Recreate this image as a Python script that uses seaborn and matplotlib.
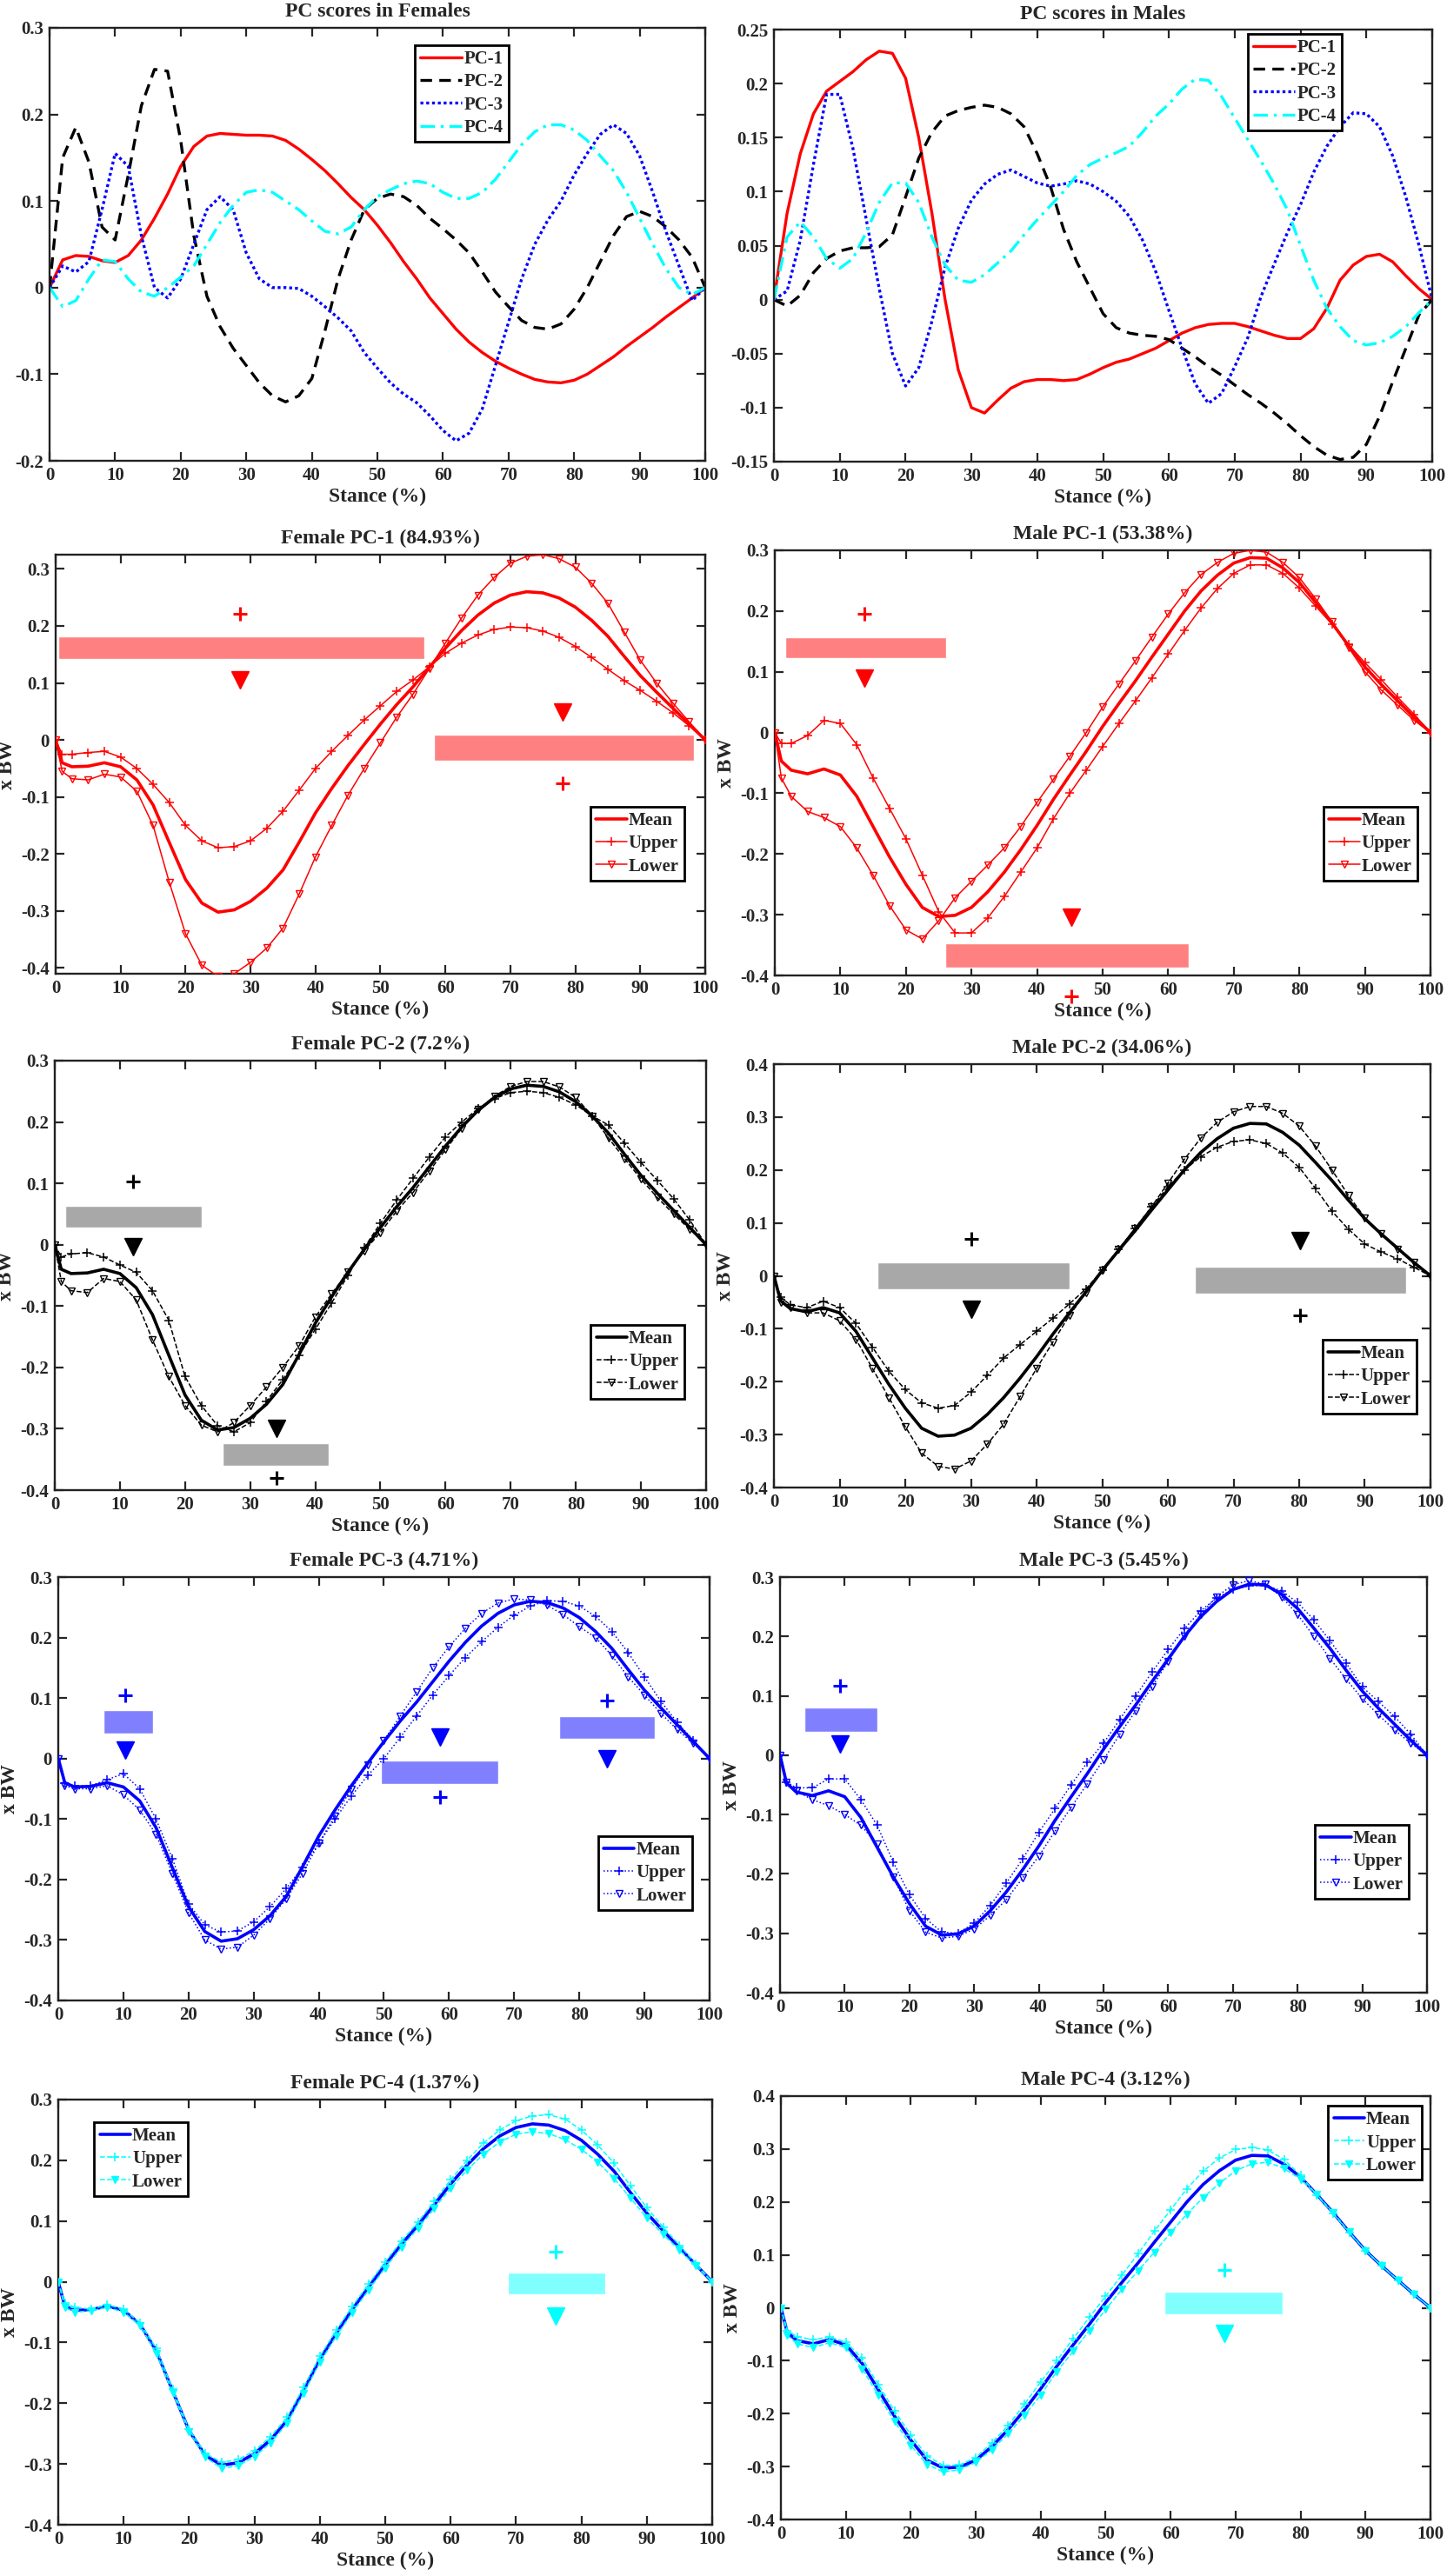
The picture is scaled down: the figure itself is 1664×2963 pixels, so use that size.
import numpy as np
import matplotlib
matplotlib.use("Agg")
import matplotlib.pyplot as plt
from matplotlib.ticker import FuncFormatter
import seaborn as sns

# stance grids (% of stance phase)
STANCE = [0, 1] + list(np.arange(2.5, 100.01, 2.5))
STANCE_PC = list(range(0, 101, 2))

# ---- PC scores (top row) ----
F_PC1 = [0.0, 0.032, 0.037, 0.036, 0.031, 0.029, 0.037, 0.055, 0.08, 0.108, 0.14, 0.163, 0.175, 0.178, 0.177, 0.176,
         0.176, 0.175, 0.17, 0.16, 0.148, 0.135, 0.12, 0.104, 0.09, 0.072, 0.052, 0.03, 0.01, -0.012, -0.03, -0.048,
         -0.063, -0.075, -0.085, -0.093, -0.1, -0.106, -0.109, -0.11, -0.107, -0.1, -0.09, -0.08, -0.068, -0.057,
         -0.046, -0.034, -0.023, -0.012, 0.0]
F_PC2 = [0.0, 0.15, 0.185, 0.145, 0.07, 0.055, 0.13, 0.21, 0.252, 0.25, 0.17, 0.06, -0.01, -0.045, -0.07, -0.09,
         -0.11, -0.125, -0.132, -0.125, -0.105, -0.05, 0.01, 0.055, 0.09, 0.103, 0.108, 0.105, 0.095, 0.08, 0.068,
         0.055, 0.04, 0.018, -0.005, -0.022, -0.038, -0.046, -0.048, -0.042, -0.025, 0.0, 0.03, 0.06, 0.082, 0.088,
         0.082, 0.07, 0.055, 0.035, 0.0]
F_PC3 = [0.0, 0.025, 0.018, 0.03, 0.09, 0.155, 0.14, 0.06, 0.0, -0.012, 0.01, 0.05, 0.09, 0.105, 0.09, 0.04, 0.01,
         0.0, 0.0, -0.001, -0.01, -0.022, -0.035, -0.05, -0.075, -0.093, -0.11, -0.123, -0.133, -0.148, -0.165,
         -0.177, -0.168, -0.14, -0.09, -0.04, 0.01, 0.05, 0.078, 0.1, 0.13, 0.155, 0.177, 0.188, 0.178, 0.152, 0.11,
         0.065, 0.025, -0.015, 0.0]
F_PC4 = [0.0, -0.022, -0.015, 0.01, 0.032, 0.03, 0.01, -0.005, -0.01, 0.0, 0.012, 0.025, 0.05, 0.075, 0.095, 0.11,
         0.113, 0.11, 0.1, 0.09, 0.077, 0.065, 0.062, 0.07, 0.09, 0.105, 0.113, 0.12, 0.123, 0.12, 0.11, 0.103, 0.103,
         0.11, 0.125, 0.145, 0.165, 0.18, 0.188, 0.188, 0.182, 0.17, 0.152, 0.135, 0.11, 0.08, 0.05, 0.022, 0.0,
         -0.008, 0.0]
M_PC1 = [0.0, 0.08, 0.135, 0.172, 0.193, 0.202, 0.211, 0.222, 0.23, 0.228, 0.205, 0.15, 0.08, 0.0, -0.065, -0.1,
         -0.105, -0.093, -0.082, -0.076, -0.074, -0.074, -0.075, -0.074, -0.069, -0.063, -0.058, -0.055, -0.05,
         -0.045, -0.038, -0.031, -0.026, -0.023, -0.022, -0.022, -0.025, -0.029, -0.033, -0.036, -0.036, -0.027,
         -0.008, 0.018, 0.032, 0.04, 0.042, 0.035, 0.022, 0.01, 0.0]
M_PC2 = [0.0, -0.006, 0.004, 0.025, 0.038, 0.045, 0.048, 0.048, 0.049, 0.06, 0.095, 0.131, 0.155, 0.17, 0.175, 0.178,
         0.18, 0.178, 0.172, 0.16, 0.135, 0.105, 0.065, 0.035, 0.011, -0.013, -0.026, -0.031, -0.033, -0.034, -0.037,
         -0.045, -0.053, -0.062, -0.07, -0.079, -0.088, -0.096, -0.105, -0.115, -0.126, -0.136, -0.144, -0.148,
         -0.146, -0.134, -0.108, -0.076, -0.045, -0.014, 0.0]
M_PC3 = [0.0, 0.008, 0.055, 0.125, 0.19, 0.19, 0.14, 0.075, 0.01, -0.05, -0.08, -0.063, -0.02, 0.03, 0.066, 0.092,
         0.107, 0.116, 0.12, 0.114, 0.108, 0.105, 0.107, 0.11, 0.107, 0.1, 0.091, 0.077, 0.055, 0.026, -0.01, -0.045,
         -0.078, -0.096, -0.087, -0.062, -0.035, 0.003, 0.033, 0.062, 0.088, 0.118, 0.142, 0.16, 0.173, 0.172, 0.16,
         0.133, 0.095, 0.05, 0.0]
M_PC4 = [0.0, 0.058, 0.072, 0.058, 0.038, 0.029, 0.038, 0.062, 0.09, 0.108, 0.108, 0.09, 0.058, 0.032, 0.018, 0.016,
         0.023, 0.034, 0.045, 0.06, 0.074, 0.087, 0.1, 0.115, 0.125, 0.131, 0.136, 0.142, 0.155, 0.17, 0.181, 0.195,
         0.204, 0.203, 0.188, 0.168, 0.148, 0.128, 0.107, 0.083, 0.05, 0.018, -0.008, -0.025, -0.038, -0.042, -0.04,
         -0.034, -0.025, -0.012, 0.0]

# ---- mean GRF curves (x BW) ----
F_MEAN = [0, -0.04, -0.047, -0.046, -0.04, -0.047, -0.07, -0.114, -0.18, -0.245, -0.286, -0.302, -0.298, -0.283,
          -0.26, -0.228, -0.179, -0.128, -0.085, -0.045, -0.008, 0.028, 0.062, 0.093, 0.127, 0.161, 0.192, 0.219,
          0.24, 0.254, 0.26, 0.258, 0.249, 0.233, 0.21, 0.182, 0.147, 0.113, 0.084, 0.056, 0.028, 0]
M_MEAN = [0, -0.047, -0.062, -0.068, -0.06, -0.07, -0.105, -0.155, -0.205, -0.25, -0.288, -0.303, -0.301, -0.288,
          -0.262, -0.23, -0.193, -0.153, -0.11, -0.07, -0.031, 0.01, 0.048, 0.085, 0.124, 0.162, 0.2, 0.233, 0.259,
          0.279, 0.288, 0.287, 0.271, 0.247, 0.214, 0.18, 0.143, 0.108, 0.079, 0.052, 0.025, 0]

# ---- upper / lower curves per PC ----
F1_UP = [0, -0.025, -0.025, -0.022, -0.02, -0.03, -0.05, -0.078, -0.11, -0.15, -0.177, -0.189, -0.187, -0.177,
         -0.155, -0.125, -0.088, -0.05, -0.02, 0.008, 0.035, 0.06, 0.085, 0.105, 0.128, 0.152, 0.17, 0.184, 0.194,
         0.198, 0.197, 0.191, 0.18, 0.164, 0.145, 0.124, 0.104, 0.087, 0.068, 0.048, 0.025, 0]
F1_LO = [0, -0.055, -0.068, -0.07, -0.06, -0.065, -0.09, -0.15, -0.25, -0.34, -0.395, -0.415, -0.41, -0.39, -0.365,
         -0.33, -0.27, -0.205, -0.15, -0.097, -0.05, -0.005, 0.04, 0.08, 0.125, 0.17, 0.214, 0.254, 0.285, 0.31,
         0.322, 0.325, 0.318, 0.303, 0.275, 0.24, 0.19, 0.14, 0.1, 0.065, 0.032, 0]
F2_UP = [0, -0.02, -0.015, -0.013, -0.02, -0.033, -0.045, -0.075, -0.123, -0.215, -0.262, -0.295, -0.305, -0.29,
         -0.255, -0.22, -0.18, -0.138, -0.095, -0.05, -0.005, 0.035, 0.073, 0.108, 0.143, 0.176, 0.2, 0.222, 0.238,
         0.248, 0.25, 0.248, 0.24, 0.228, 0.21, 0.195, 0.165, 0.134, 0.105, 0.075, 0.04, 0]
F2_LO = [0, -0.06, -0.075, -0.078, -0.055, -0.06, -0.09, -0.155, -0.215, -0.262, -0.294, -0.305, -0.29, -0.262,
         -0.232, -0.2, -0.165, -0.118, -0.08, -0.045, -0.01, 0.02, 0.055, 0.085, 0.12, 0.155, 0.19, 0.22, 0.242,
         0.258, 0.266, 0.266, 0.257, 0.24, 0.21, 0.174, 0.14, 0.107, 0.077, 0.05, 0.025, 0]
F3_UP = [0, -0.04, -0.045, -0.045, -0.035, -0.025, -0.05, -0.1, -0.165, -0.24, -0.275, -0.287, -0.285, -0.27,
         -0.245, -0.215, -0.18, -0.14, -0.1, -0.062, -0.028, 0.0, 0.035, 0.07, 0.105, 0.137, 0.167, 0.193, 0.217,
         0.237, 0.252, 0.261, 0.26, 0.252, 0.235, 0.21, 0.175, 0.135, 0.095, 0.06, 0.03, 0]
F3_LO = [0, -0.045, -0.05, -0.05, -0.045, -0.06, -0.085, -0.125, -0.19, -0.255, -0.3, -0.315, -0.312, -0.292,
         -0.265, -0.232, -0.19, -0.14, -0.095, -0.05, -0.01, 0.03, 0.07, 0.11, 0.15, 0.185, 0.215, 0.24, 0.257,
         0.264, 0.262, 0.254, 0.238, 0.218, 0.2, 0.17, 0.135, 0.105, 0.075, 0.048, 0.025, 0]
F4_UP = [0, -0.035, -0.042, -0.045, -0.038, -0.045, -0.068, -0.11, -0.177, -0.243, -0.283, -0.297, -0.293, -0.278,
         -0.255, -0.223, -0.174, -0.123, -0.08, -0.04, -0.003, 0.033, 0.067, 0.098, 0.133, 0.168, 0.2, 0.228, 0.25,
         0.265, 0.273, 0.275, 0.268, 0.25, 0.225, 0.195, 0.158, 0.122, 0.09, 0.06, 0.03, 0]
F4_LO = [0, -0.042, -0.05, -0.048, -0.042, -0.05, -0.072, -0.118, -0.183, -0.247, -0.289, -0.307, -0.303, -0.288,
         -0.265, -0.233, -0.184, -0.133, -0.09, -0.05, -0.013, 0.023, 0.057, 0.088, 0.121, 0.154, 0.184, 0.21, 0.23,
         0.243, 0.247, 0.244, 0.234, 0.218, 0.197, 0.17, 0.138, 0.105, 0.078, 0.052, 0.026, 0]
M1_UP = [0, -0.018, -0.018, -0.005, 0.02, 0.015, -0.02, -0.075, -0.125, -0.175, -0.235, -0.295, -0.33, -0.33,
         -0.305, -0.27, -0.23, -0.19, -0.142, -0.1, -0.062, -0.023, 0.015, 0.052, 0.09, 0.129, 0.168, 0.205, 0.237,
         0.262, 0.276, 0.276, 0.262, 0.238, 0.208, 0.178, 0.145, 0.115, 0.087, 0.058, 0.03, 0]
M1_LO = [0, -0.075, -0.105, -0.13, -0.14, -0.155, -0.19, -0.235, -0.285, -0.325, -0.34, -0.31, -0.272, -0.245,
         -0.218, -0.19, -0.155, -0.115, -0.077, -0.039, 0.0, 0.042, 0.08, 0.118, 0.157, 0.195, 0.23, 0.26, 0.28,
         0.295, 0.3, 0.297, 0.28, 0.255, 0.22, 0.182, 0.14, 0.1, 0.07, 0.045, 0.02, 0]
M2_UP = [0, -0.04, -0.055, -0.06, -0.048, -0.06, -0.09, -0.135, -0.18, -0.215, -0.24, -0.25, -0.245, -0.22, -0.188,
         -0.155, -0.13, -0.105, -0.08, -0.053, -0.025, 0.01, 0.05, 0.09, 0.13, 0.168, 0.2, 0.225, 0.243, 0.254, 0.257,
         0.25, 0.232, 0.205, 0.165, 0.122, 0.088, 0.06, 0.045, 0.032, 0.016, 0]
M2_LO = [0, -0.05, -0.06, -0.07, -0.07, -0.085, -0.12, -0.175, -0.23, -0.285, -0.335, -0.36, -0.365, -0.35, -0.318,
         -0.28, -0.228, -0.175, -0.125, -0.075, -0.032, 0.01, 0.05, 0.09, 0.13, 0.175, 0.22, 0.26, 0.29, 0.31, 0.32,
         0.32, 0.307, 0.283, 0.245, 0.2, 0.152, 0.11, 0.08, 0.05, 0.025, 0]
M3_UP = [0, -0.045, -0.055, -0.055, -0.04, -0.04, -0.075, -0.118, -0.18, -0.235, -0.275, -0.298, -0.3, -0.283,
         -0.253, -0.215, -0.175, -0.13, -0.09, -0.05, -0.012, 0.02, 0.06, 0.1, 0.14, 0.178, 0.213, 0.243, 0.265,
         0.279, 0.285, 0.286, 0.277, 0.257, 0.228, 0.193, 0.155, 0.115, 0.09, 0.065, 0.035, 0]
M3_LO = [0, -0.045, -0.06, -0.075, -0.085, -0.1, -0.118, -0.15, -0.205, -0.262, -0.298, -0.308, -0.305, -0.293,
         -0.27, -0.243, -0.207, -0.17, -0.128, -0.088, -0.048, -0.008, 0.035, 0.075, 0.115, 0.158, 0.2, 0.237, 0.267,
         0.287, 0.294, 0.288, 0.267, 0.237, 0.2, 0.163, 0.128, 0.095, 0.068, 0.042, 0.02, 0]
M4_UP = [0, -0.043, -0.055, -0.06, -0.055, -0.065, -0.095, -0.145, -0.195, -0.24, -0.28, -0.298, -0.297, -0.283,
         -0.255, -0.222, -0.182, -0.14, -0.1, -0.058, -0.018, 0.022, 0.062, 0.102, 0.145, 0.185, 0.225, 0.258, 0.283,
         0.299, 0.303, 0.298, 0.28, 0.25, 0.213, 0.178, 0.142, 0.108, 0.079, 0.052, 0.025, 0]
M4_LO = [0, -0.052, -0.068, -0.075, -0.066, -0.075, -0.115, -0.165, -0.215, -0.26, -0.296, -0.31, -0.306, -0.292,
         -0.268, -0.238, -0.203, -0.165, -0.12, -0.082, -0.043, -0.003, 0.035, 0.07, 0.105, 0.142, 0.177, 0.208,
         0.235, 0.259, 0.272, 0.275, 0.263, 0.243, 0.214, 0.18, 0.143, 0.108, 0.079, 0.052, 0.025, 0]

# significant regions: (start %, end %, band low, band high, marker x, "+" y, triangle y)
F1_SIG = [(0.4, 56.8, 0.142, 0.182, 28.4, 0.222, 0.106), (58.2, 98.2, -0.037, 0.009, 78.0, -0.076, 0.049)]
M1_SIG = [(1.6, 26.1, 0.123, 0.157, 13.6, 0.195, 0.089), (26.0, 63.1, -0.387, -0.347, 45.2, -0.435, -0.304)]
F2_SIG = [(1.6, 22.6, 0.028, 0.064, 12.0, 0.103, -0.003), (25.8, 42.0, -0.361, -0.324, 34.0, -0.38, -0.3)]
M2_SIG = [(15.7, 45.0, -0.025, 0.025, 30.1, 0.069, -0.064), (64.1, 96.3, -0.034, 0.017, 80.1, -0.075, 0.066)]
F3_SIG = [(6.9, 14.6, 0.041, 0.08, 10.3, 0.104, 0.014), (49.5, 67.6, -0.042, -0.003, 58.6, -0.064, 0.036),
          (76.9, 91.6, 0.032, 0.07, 84.3, 0.096, 0.0)]
M3_SIG = [(3.8, 15.1, 0.04, 0.081, 9.3, 0.117, 0.019)]
F4_SIG = [(68.7, 83.7, -0.02, 0.015, 76.0, 0.049, -0.056)]
M4_SIG = [(59.1, 77.3, -0.013, 0.03, 68.3, 0.072, -0.049)]

sns.set_theme(style="ticks")
plt.rcParams["font.family"] = ["Liberation Serif", "DejaVu Serif"]
plt.rcParams["font.weight"] = "bold"
plt.rcParams["axes.titleweight"] = "bold"
plt.rcParams["axes.labelweight"] = "bold"
plt.rcParams["axes.unicode_minus"] = False

W, H = 1665, 2963
fig = plt.figure(figsize=(W / 100, H / 100), dpi=100)


def make_ax(x0, y0, x1, y1):
    return fig.add_axes([x0 / W, 1 - y1 / H, (x1 - x0) / W, (y1 - y0) / H])


def fmt(v, pos):
    s = f"{v:.2f}".rstrip("0").rstrip(".")
    return "0" if s in ("-0", "") else s


def style(ax, title, ylim, yticks, ylabel=True):
    ax.set_xlim(0, 100)
    ax.set_ylim(*ylim)
    ax.set_xticks(range(0, 101, 10))
    ax.set_yticks(yticks)
    ax.yaxis.set_major_formatter(FuncFormatter(fmt))
    ax.tick_params(direction="in", top=True, right=True, length=7, width=1.6, labelsize=15, pad=5)
    for s in ax.spines.values():
        s.set_linewidth(1.7)
        s.set_color("#222222")
    ax.set_title(title, fontsize=17, pad=9)
    ax.set_xlabel("Stance (%)", fontsize=17, labelpad=3)
    ax.set_ylabel("x BW" if ylabel else "", fontsize=17, labelpad=4)


def legend(ax, loc, anchor, handlelength=1.7):
    leg = ax.legend(loc=loc, bbox_to_anchor=anchor, frameon=True, fancybox=False, edgecolor="black",
                    framealpha=1, handlelength=handlelength, handletextpad=0.1, borderpad=0.3,
                    labelspacing=0.3, borderaxespad=0, prop={"size": 15, "weight": "bold"})
    leg.get_frame().set_linewidth(2.0)


def pc_panel(ax, title, series, ylim, yticks, anchor):
    styles = [("PC-1", "red", "-"), ("PC-2", "black", (0, (4, 2.5))),
              ("PC-3", "blue", (0, (1, 1))), ("PC-4", "cyan", (0, (5, 2, 1, 2)))]
    for (name, col, ls), vals in zip(styles, series):
        sns.lineplot(x=STANCE_PC, y=vals, ax=ax, color=col, linestyle=ls, linewidth=2.4, label=name)
    style(ax, title, ylim, yticks, ylabel=False)
    legend(ax, "upper left", anchor, handlelength=2.3)


def mode_panel(ax, title, mean, up, lo, color, ls, sig, bar_color, ylim, yticks, loc, anchor,
               mean_color=None, lo_fill="none"):
    mean_color = mean_color or color
    sns.lineplot(x=STANCE, y=mean, ax=ax, color=mean_color, linewidth=2.6, label="Mean", zorder=3)
    sns.lineplot(x=STANCE, y=up, ax=ax, color=color, linestyle=ls, linewidth=1.1, marker="+",
                 markersize=7, markeredgecolor=color, markeredgewidth=1.1, label="Upper", zorder=4)
    sns.lineplot(x=STANCE, y=lo, ax=ax, color=color, linestyle=ls, linewidth=1.1, marker="v",
                 markersize=6, markeredgecolor=color, markerfacecolor=lo_fill, markeredgewidth=1.0,
                 label="Lower", zorder=4)
    for x0, x1, b0, b1, mx, plus_y, tri_y in sig:
        ax.barh(y=(b0 + b1) / 2, width=x1 - x0, left=x0, height=b1 - b0, color=bar_color, zorder=2)
        ax.plot([mx], [plus_y], marker="+", markersize=12, markeredgewidth=2.2, color=color,
                linestyle="none", clip_on=False, zorder=5)
        ax.plot([mx], [tri_y], marker="v", markersize=14, color=color, linestyle="none", zorder=5)
    style(ax, title, ylim, yticks)
    legend(ax, loc, anchor)


yt_a = [-0.4, -0.3, -0.2, -0.1, 0, 0.1, 0.2, 0.3]
yt_b = [-0.4, -0.3, -0.2, -0.1, 0, 0.1, 0.2, 0.3, 0.4]

ax = make_ax(57, 32, 811, 530)
pc_panel(ax, "PC scores in Females", [F_PC1, F_PC2, F_PC3, F_PC4], (-0.2, 0.3),
         [-0.2, -0.1, 0, 0.1, 0.2, 0.3], (0.557, 0.96))
ax = make_ax(890, 34, 1647, 531)
pc_panel(ax, "PC scores in Males", [M_PC1, M_PC2, M_PC3, M_PC4], (-0.15, 0.25),
         [-0.15, -0.1, -0.05, 0, 0.05, 0.1, 0.15, 0.2, 0.25], (0.72, 0.99))

red_bar, gray_bar, blue_bar, cyan_bar = "#FF8080", "#A8A8A8", "#8080FF", "#80FFFF"

ax = make_ax(64, 638, 811, 1120)
mode_panel(ax, "Female PC-1 (84.93%)", F_MEAN, F1_UP, F1_LO, "red", "-", F1_SIG, red_bar,
           (-0.41, 0.325), yt_a, "lower right", (0.968, 0.222))
ax = make_ax(891, 633, 1645, 1122)
mode_panel(ax, "Male PC-1 (53.38%)", M_MEAN, M1_UP, M1_LO, "red", "-", M1_SIG, red_bar,
           (-0.4, 0.3), yt_a, "lower right", (0.98, 0.223))

ax = make_ax(63, 1220, 812, 1714)
mode_panel(ax, "Female PC-2 (7.2%)", F_MEAN, F2_UP, F2_LO, "black", "--", F2_SIG, gray_bar,
           (-0.4, 0.3), yt_a, "lower right", (0.967, 0.213))
ax = make_ax(890, 1224, 1645, 1711)
mode_panel(ax, "Male PC-2 (34.06%)", M_MEAN, M2_UP, M2_LO, "black", "--", M2_SIG, gray_bar,
           (-0.4, 0.4), yt_b, "lower right", (0.979, 0.175))

ax = make_ax(67, 1814, 816, 2301)
mode_panel(ax, "Female PC-3 (4.71%)", F_MEAN, F3_UP, F3_LO, "blue", ":", F3_SIG, blue_bar,
           (-0.4, 0.3), yt_a, "lower right", (0.973, 0.214))
ax = make_ax(897, 1814, 1641, 2292)
mode_panel(ax, "Male PC-3 (5.45%)", M_MEAN, M3_UP, M3_LO, "blue", ":", M3_SIG, blue_bar,
           (-0.4, 0.3), yt_a, "lower right", (0.972, 0.226))

ax = make_ax(67, 2415, 819, 2904)
mode_panel(ax, "Female PC-4 (1.37%)", F_MEAN, F4_UP, F4_LO, "cyan", "--", F4_SIG, cyan_bar,
           (-0.4, 0.3), yt_a, "upper left", (0.055, 0.947), mean_color="blue", lo_fill="cyan")
ax = make_ax(898, 2411, 1645, 2898)
mode_panel(ax, "Male PC-4 (3.12%)", M_MEAN, M4_UP, M4_LO, "cyan", "--", M4_SIG, cyan_bar,
           (-0.4, 0.4), yt_b, "upper right", (0.987, 0.977), mean_color="blue", lo_fill="cyan")

fig.savefig("out.png", dpi=100, facecolor="white")
